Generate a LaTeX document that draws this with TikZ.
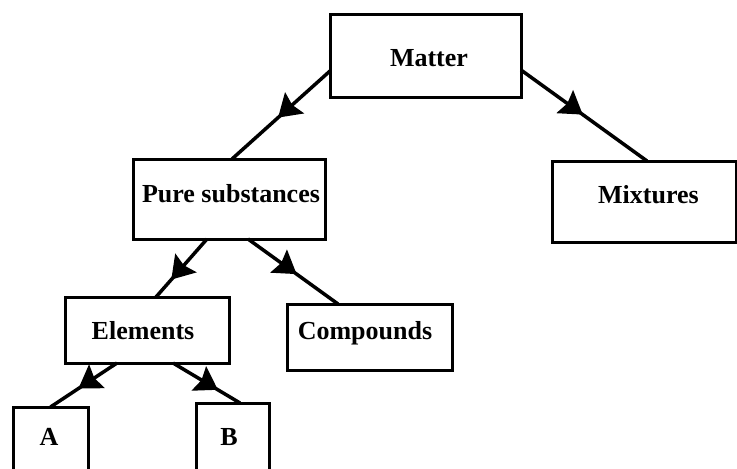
\documentclass[tikz,border=0pt]{standalone}
\usepackage{fontspec}
\setmainfont{Liberation Serif}
\usetikzlibrary{arrows.meta,decorations.markings,calc}
\begin{document}
\begin{tikzpicture}[x=1pt,y=-1pt,
  box/.style={draw, line width=3pt, inner sep=0pt, outer sep=0pt},
  lbl/.style={anchor=base, inner sep=0pt, font=\fontsize{26pt}{30pt}\selectfont\bfseries},
  conn/.style={line width=3.5pt, postaction={decorate},
    decoration={markings, mark=at position #1 with {\arrow{Stealth[length=22pt,width=28pt,inset=3pt]}}}}]
\useasboundingbox (0,0) rectangle (737,469);
\clip (0,0) rectangle (737,469);
% boxes
\node[box, minimum width=191pt, minimum height=83pt] (matter) at (425.5,55.5) {};
\node[box, minimum width=192pt, minimum height=80pt] (pure) at (229,199) {};
\node[box, minimum width=184pt, minimum height=81pt] (mix) at (644,201.5) {};
\node[box, minimum width=164pt, minimum height=66pt] (elem) at (147,330) {};
\node[box, minimum width=165pt, minimum height=66pt] (comp) at (369.5,337) {};
\node[box, minimum width=75pt, minimum height=68pt] (a) at (50.5,441) {};
\node[box, minimum width=73pt, minimum height=72pt] (b) at (232.5,439) {};
% labels
\node[lbl] (matterT) at (429,66.6) {Matter};
\node[lbl] (pureT) at (231,202.6) {Pure substances};
\node[lbl] (mixT) at (648.5,203) {Mixtures};
\node[lbl] (elemT) at (143,339.6) {Elements};
\node[lbl] (compT) at (365,339.6) {Compounds};
\node[lbl] (aT) at (49,445.6) {A};
\node[lbl] (bT) at (229,445.6) {B};
% connectors
\draw[conn=0.53] ($(matter.west)+(0,15.5)$) -- ($(pure.north)+(3,0)$);
\draw[conn=0.49] ($(matter.east)+(0,14.5)$) -- ($(mix.north)+(3,0)$);
\draw[conn=0.7] ($(pure.south)+(-22,0)$) -- ($(elem.north)+(9,0)$);
\draw[conn=0.54] ($(pure.south)+(19,0)$) -- ($(comp.north)+(-31.5,0)$);
\draw[conn=0.58] ($(elem.south)+(-30,0)$) -- (a.north);
\draw[conn=0.67] ($(elem.south)+(26,0)$) -- ($(b.north)+(7.5,0)$);
\end{tikzpicture}
\end{document}
